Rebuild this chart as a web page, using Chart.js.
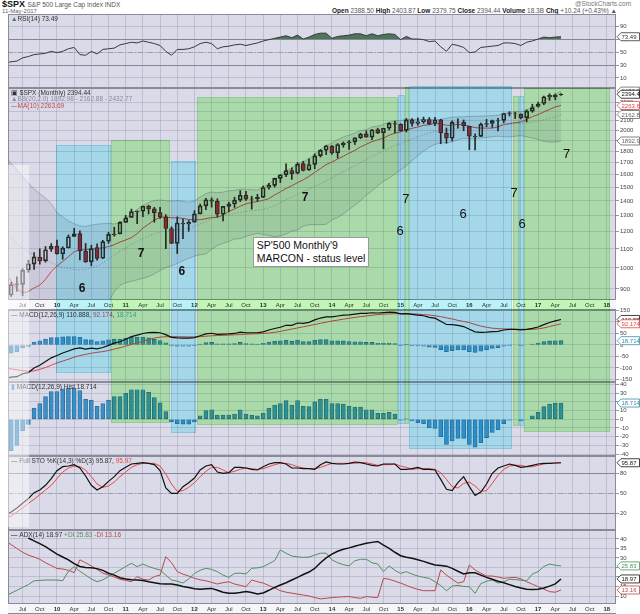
<!DOCTYPE html>
<html>
<head>
<meta charset="utf-8">
<script src="https://cdn.jsdelivr.net/npm/chart.js@4.4.1/dist/chart.umd.min.js"></script>
<style>
  body { margin: 0; background: #fff; }
  #wrap { position: relative; width: 640px; height: 614px; overflow: hidden; font-family: "Liberation Sans", Arial, sans-serif; }
  .pane { position: absolute; left: 0; width: 640px; }
  .t { position: absolute; white-space: nowrap; line-height: 1; }
  #overlay { position: absolute; left: 0; top: 0; width: 640px; height: 614px; pointer-events: none; }
  .zone { position: absolute; }
  .zone.green { background: rgb(200,255,187); mix-blend-mode: multiply; box-shadow: inset 0 0 0 1px rgb(172,238,160); }
  .zone.cyan { background: rgb(192,252,255); mix-blend-mode: multiply; box-shadow: inset 0 0 0 1px rgb(158,232,244); }
  .zone.white { background: rgba(255,255,255,0.45); }
  .note { position: absolute; transform: translate(-50%, -50%); font-family: "Liberation Sans", Arial, sans-serif; color: #111; font-size: 13px; }
  .note.b { font-weight: bold; font-size: 12px; }
  #box { position: absolute; background: #fff; border: 1px solid #9a9a9a; padding: 1px 3px; font-size: 10.5px; line-height: 13px; color: #111; white-space: nowrap; }
</style>
</head>
<body>
<div id="wrap">
  <div class="t" style="left:2px;top:0;font-size:9px;font-weight:bold;color:#111">$SPX <span style="font-size:6.5px;font-weight:normal;color:#555">S&amp;P 500 Large Cap Index INDX</span></div>
  <div class="t" style="left:2px;top:8px;font-size:6px;color:#666">11-May-2017</div>
  <div class="t" style="left:575px;top:1px;font-size:6.5px;color:#777">@StockCharts.com</div>
  <div class="t" style="right:23px;top:8px;font-size:6.5px;color:#555"><b style="color:#222">Open</b> 2388.50 <b style="color:#222">High</b> 2403.87 <b style="color:#222">Low</b> 2379.75 <b style="color:#222">Close</b> 2394.44 <b style="color:#222">Volume</b> 18.3B <b style="color:#222">Chg</b> +10.24 (+0.43%) &#9650;</div>

  <div class="pane" style="top:9px;height:84px"><canvas id="rsi"></canvas></div>
  <div class="pane" style="top:83px;height:227px"><canvas id="price"></canvas></div>
  <div class="pane" style="top:305px;height:82px"><canvas id="macd"></canvas></div>
  <div class="pane" style="top:377px;height:84px"><canvas id="hist"></canvas></div>
  <div class="pane" style="top:451px;height:84px"><canvas id="sto"></canvas></div>
  <div class="pane" style="top:525px;height:89px"><canvas id="adx"></canvas></div>

  <div id="overlay"></div>
</div>

<script>
// months counted from Jan 2010 = 0; series start Apr 2009 (-9) and end May 2017 (88)
const FIRST_MONTH = -9;

const xTickMonths = [-6, -3, 0, 3, 6, 9, 12, 15, 18, 21, 24, 27, 30, 33, 36, 39, 42, 45, 48, 51, 54, 57,
  60, 63, 66, 69, 72, 75, 78, 81, 84, 87, 90, 93, 96];
const xTickLabels = ['Jul', 'Oct', '10', 'Apr', 'Jul', 'Oct', '11', 'Apr', 'Jul', 'Oct', '12', 'Apr', 'Jul', 'Oct',
  '13', 'Apr', 'Jul', 'Oct', '14', 'Apr', 'Jul', 'Oct', '15', 'Apr', 'Jul', 'Oct', '16', 'Apr', 'Jul', 'Oct',
  '17', 'Apr', 'Jul', 'Oct', '18'];

const open = [
  793.6, 872.7, 923.3, 920.8, 990.2, 1019.5, 1054.9, 1036.2, 1098.9,
  1116.6, 1073.9, 1105.4, 1171.2, 1188.6, 1087.3, 1031.1, 1107.5, 1049.7, 1143.5, 1185.7, 1186.6,
  1257.6, 1289.1, 1328.6, 1329.5, 1365.2, 1345.2, 1320.6, 1292.6, 1219.1, 1131.2, 1251.0, 1246.9,
  1258.9, 1312.5, 1365.9, 1408.5, 1397.9, 1309.9, 1362.3, 1379.3, 1406.5, 1440.9, 1412.2, 1416.2,
  1426.2, 1498.1, 1514.7, 1569.2, 1597.6, 1631.7, 1609.8, 1689.4, 1635.9, 1682.4, 1758.7, 1806.6,
  1845.9, 1782.7, 1857.7, 1873.9, 1884.4, 1923.9, 1962.3, 1929.8, 2004.1, 1971.4, 2018.2, 2065.8,
  2058.9, 1996.7, 2105.2, 2067.6, 2087.4, 2108.6, 2067.0, 2104.5, 1970.1, 1919.7, 2080.8, 2082.9,
  2038.2, 1936.9, 1937.1, 2056.6, 2067.2, 2093.9, 2099.3, 2173.2, 2171.3, 2164.3, 2128.7, 2200.2,
  2251.6, 2285.6, 2380.1, 2362.3, 2388.5];
const high = [
  888.7, 930.2, 956.2, 996.7, 1039.5, 1080.2, 1101.4, 1113.7, 1130.4,
  1150.5, 1112.4, 1180.2, 1219.8, 1205.1, 1131.2, 1120.9, 1129.2, 1148.7, 1196.1, 1227.1, 1262.6,
  1302.7, 1344.1, 1332.3, 1364.6, 1370.6, 1356.5, 1356.5, 1307.4, 1229.3, 1292.7, 1277.6, 1269.4,
  1333.5, 1378.0, 1419.2, 1422.4, 1415.3, 1363.5, 1391.7, 1426.7, 1474.5, 1470.0, 1434.3, 1448.0,
  1509.9, 1530.9, 1570.3, 1597.6, 1687.2, 1654.2, 1698.0, 1709.7, 1729.9, 1775.2, 1813.6, 1849.4,
  1850.8, 1867.9, 1883.9, 1897.3, 1924.0, 1968.2, 1991.4, 2005.0, 2019.3, 2018.2, 2075.8, 2093.6,
  2064.4, 2119.6, 2117.5, 2125.9, 2134.7, 2129.9, 2132.8, 2112.7, 2021.0, 2094.3, 2116.5, 2104.3,
  2038.2, 1962.9, 2072.2, 2111.1, 2103.5, 2120.6, 2177.1, 2193.8, 2187.9, 2169.6, 2214.1, 2277.5,
  2301.0, 2371.5, 2401.0, 2398.2, 2403.87];
const low = [
  783.3, 866.1, 888.9, 869.3, 978.5, 991.9, 1019.0, 1029.4, 1085.9,
  1071.6, 1044.5, 1105.4, 1170.7, 1040.8, 1028.3, 1010.9, 1039.7, 1048.1, 1131.9, 1173.0, 1186.6,
  1257.6, 1289.1, 1249.1, 1294.7, 1311.8, 1258.1, 1282.9, 1101.5, 1136.2, 1074.8, 1158.7, 1202.4,
  1258.9, 1312.5, 1340.0, 1357.4, 1291.0, 1266.7, 1325.4, 1354.7, 1396.6, 1403.3, 1343.4, 1398.1,
  1426.2, 1485.0, 1501.5, 1536.0, 1581.3, 1560.3, 1604.6, 1627.5, 1633.4, 1646.5, 1746.2, 1767.9,
  1770.5, 1737.9, 1834.4, 1814.4, 1859.8, 1915.9, 1930.7, 1904.8, 1964.0, 1820.7, 2001.0, 1972.6,
  1988.4, 1980.9, 2039.7, 2048.4, 2067.9, 2056.3, 2044.0, 1867.0, 1871.9, 1893.7, 2019.4, 1993.3,
  1812.3, 1810.1, 1937.1, 2033.8, 2025.9, 1991.7, 2074.0, 2147.6, 2119.1, 2114.7, 2083.8, 2187.4,
  2245.1, 2271.7, 2322.3, 2329.0, 2379.75];
const close = [
  872.8, 919.1, 919.3, 987.5, 1020.6, 1057.1, 1036.2, 1095.6, 1115.1,
  1073.9, 1104.5, 1169.4, 1186.7, 1089.4, 1030.7, 1101.6, 1049.3, 1141.2, 1183.3, 1180.6, 1257.6,
  1286.1, 1327.2, 1325.8, 1363.6, 1345.2, 1320.6, 1292.3, 1218.9, 1131.4, 1253.3, 1247.0, 1257.6,
  1312.4, 1365.7, 1408.5, 1397.9, 1310.3, 1362.2, 1379.3, 1406.6, 1440.7, 1412.2, 1416.2, 1426.2,
  1498.1, 1514.7, 1569.2, 1597.6, 1630.7, 1606.3, 1685.7, 1633.0, 1681.6, 1756.5, 1806.0, 1848.4,
  1782.6, 1859.5, 1872.3, 1883.9, 1923.6, 1960.2, 1930.7, 2003.4, 1972.3, 2018.1, 2067.6, 2058.9,
  1995.0, 2104.5, 2067.9, 2085.5, 2107.4, 2063.1, 2104.0, 1972.2, 1920.0, 2079.4, 2080.4, 2043.9,
  1940.2, 1932.2, 2059.7, 2065.3, 2096.9, 2098.9, 2173.6, 2170.9, 2168.3, 2126.2, 2199.0, 2238.8,
  2278.9, 2363.6, 2362.7, 2384.2, 2394.44];
const ma10 = [
  971.7, 936.8, 900.5, 882.6, 887.8, 903.9, 917.2, 944.1, 982.1,
  1009.7, 1032.9, 1057.9, 1084.7, 1094.9, 1095.9, 1100.3, 1101.6, 1106.2, 1113.0, 1123.7, 1139.0,
  1150.7, 1164.7, 1188.3, 1221.6, 1246.0, 1273.1, 1288.2, 1291.8, 1286.9, 1286.4, 1282.5, 1275.6,
  1274.2, 1274.4, 1280.8, 1288.5, 1290.3, 1304.6, 1329.4, 1344.8, 1364.1, 1379.6, 1390.0, 1396.0,
  1405.0, 1416.7, 1442.5, 1466.1, 1491.2, 1511.2, 1535.7, 1557.8, 1584.3, 1617.3, 1648.1, 1681.5,
  1702.8, 1729.0, 1753.2, 1781.0, 1804.7, 1837.5, 1862.4, 1887.1, 1903.7, 1920.7, 1949.2, 1969.1,
  1981.4, 2003.4, 2017.9, 2030.4, 2048.1, 2054.0, 2067.2, 2062.6, 2047.9, 2049.9, 2058.4, 2052.4,
  2039.6, 2024.3, 2019.5, 2019.7, 2019.0, 2031.7, 2057.1, 2066.2, 2075.0, 2083.2, 2109.1, 2139.8,
  2161.7, 2191.5, 2218.1, 2246.6, 2263.69];
const bbMid = [
  1192.1, 1161.7, 1130.2, 1105.5, 1083.1, 1067.0, 1052.3, 1040.9, 1027.4,
  1011.1, 1002.3, 997.4, 992.6, 988.8, 991.9, 1002.1, 1009.4, 1025.2, 1047.6, 1066.7, 1086.0,
  1104.3, 1124.7, 1141.6, 1158.8, 1173.2, 1187.4, 1197.2, 1202.4, 1205.3, 1212.7, 1216.6, 1220.2,
  1231.3, 1248.0, 1263.4, 1280.8, 1289.3, 1298.2, 1308.2, 1315.6, 1323.3, 1327.6, 1332.1, 1335.2,
  1342.9, 1352.6, 1366.4, 1385.4, 1410.3, 1428.0, 1449.9, 1468.7, 1487.2, 1506.7, 1526.6, 1549.1,
  1572.7, 1597.6, 1622.2, 1646.1, 1670.2, 1697.7, 1723.4, 1752.2, 1775.9, 1801.1, 1826.0, 1849.1,
  1867.3, 1892.2, 1911.3, 1934.0, 1955.3, 1970.6, 1985.5, 1991.7, 1998.6, 2009.5, 2019.9, 2027.9,
  2028.8, 2027.4, 2033.8, 2036.9, 2043.1, 2047.2, 2052.5, 2058.1, 2066.7, 2067.8, 2074.4, 2082.1,
  2090.6, 2105.6, 2118.6, 2139.2, 2162.88];
const bbUpper = [
  1752, 1690, 1640, 1586, 1533, 1487, 1452, 1421, 1380,
  1321, 1292, 1267, 1249, 1235, 1232, 1240, 1246, 1249, 1252, 1247, 1256,
  1280, 1315, 1342, 1369, 1389, 1403, 1407, 1402, 1399, 1403, 1397, 1390,
  1401, 1428, 1453, 1465, 1459, 1464, 1474, 1476, 1487, 1484, 1482, 1479,
  1503, 1529, 1562, 1595, 1634, 1652, 1690, 1705, 1731, 1771, 1811, 1853,
  1873, 1908, 1932, 1950, 1970, 1994, 2003, 2032, 2040, 2057, 2082, 2093,
  2097, 2112, 2107, 2110, 2111, 2107, 2110, 2108, 2123, 2134, 2136, 2138,
  2143, 2143, 2146, 2147, 2151, 2155, 2173, 2184, 2195, 2192, 2214, 2242,
  2275, 2322, 2355, 2395, 2432.77];
const bbLower = [
  632, 634, 620, 626, 633, 647, 652, 661, 675,
  701, 712, 727, 737, 743, 752, 764, 773, 801, 844, 887, 916,
  928, 935, 942, 949, 957, 971, 987, 1002, 1011, 1023, 1037, 1050,
  1061, 1068, 1073, 1097, 1119, 1132, 1142, 1156, 1159, 1172, 1182, 1191,
  1183, 1177, 1170, 1175, 1186, 1204, 1210, 1233, 1243, 1243, 1243, 1245,
  1273, 1288, 1312, 1342, 1370, 1402, 1443, 1472, 1512, 1545, 1570, 1605,
  1637, 1672, 1715, 1758, 1799, 1835, 1861, 1876, 1875, 1885, 1904, 1918,
  1915, 1911, 1922, 1927, 1935, 1939, 1933, 1932, 1939, 1944, 1934, 1922,
  1907, 1890, 1883, 1883, 1892.98];
const rsi = [
  33, 35, 36, 41, 43, 46, 47, 48, 51,
  49, 51, 55, 57, 46, 45, 51, 47, 54, 55, 56, 61,
  63, 65, 64, 67, 65, 63, 60, 51, 45, 54, 54, 55,
  58, 63, 65, 63, 55, 58, 59, 61, 62, 60, 62, 64,
  67, 69, 71, 73, 75, 72, 76, 70, 73, 77, 79, 79,
  71, 74, 75, 76, 78, 78, 75, 78, 75, 77, 78, 77,
  69, 74, 70, 70, 69, 66, 67, 58, 51, 62, 60, 57,
  49, 50, 57, 58, 59, 60, 64, 64, 63, 60, 65, 67,
  70, 73, 72, 73, 73.49];
const macd = [
  -146, -140, -138, -125, -120, -100, -88, -72, -56,
  -46, -35, -26, -17, -13, -18, -14, -17, -11, -2, 8, 14,
  25, 36, 43, 50, 54, 55, 53, 45, 33, 31, 30, 29.5,
  32, 40, 48, 51, 46, 47, 48, 50, 56, 53, 53, 53,
  57, 65, 71.5, 77, 85.5, 85.5, 95.5, 94, 98.5, 109, 117, 122,
  122, 126, 129.5, 131, 134, 137, 137, 140, 139, 141, 143, 142,
  135, 136.5, 133, 130, 127, 120, 116.5, 103, 89, 88, 85, 80,
  68, 57, 55, 56, 58, 59, 65, 68, 68, 66, 68, 72,
  78, 88.5, 97.5, 104.5, 110.888];
const signal = [
  -100, -104, -108, -112, -114, -113, -106, -98, -88,
  -78, -70, -62, -53, -46, -41, -36, -32, -29, -24, -18, -12,
  -5, 2, 9, 16, 23, 30, 34, 36, 36, 36, 35.5, 35,
  35, 36, 38, 40, 41, 42, 43, 44, 45, 47, 48, 49,
  50, 52, 55, 59, 64, 69, 74, 79, 84, 89, 94, 99,
  104, 108, 112, 116, 120, 123, 126, 129, 132, 134, 135, 136,
  136, 136, 135, 134, 132, 130, 127, 123, 118, 113, 107, 102,
  97, 89, 82, 77, 73, 71, 70, 69, 68, 68, 68, 68,
  70, 74, 80, 86, 92.174];
const hist = [
  -46, -36, -30, -13, -6, 13, 18, 26, 32,
  32, 35, 36, 36, 33, 23, 22, 15, 18, 22, 26, 26,
  30, 34, 34, 34, 31, 25, 19, 9, -3, -5, -5.5, -5.5,
  -3, 4, 10, 11, 5, 5, 5, 6, 11, 6, 5, 4,
  7, 13, 16.5, 18, 21.5, 16.5, 21.5, 15, 14.5, 20, 23, 23,
  18, 18, 17.5, 15, 14, 14, 11, 11, 7, 7, 8, 6,
  -1, 0.5, -2, -4, -5, -10, -10.5, -20, -29, -25, -22, -22,
  -29, -32, -27, -21, -15, -12, -5, -1, 0, -2, 0, 4,
  8, 14.5, 17.5, 18.5, 18.714];
const stoK = [
  18, 22, 28, 35, 42, 51, 55, 62, 72,
  84, 90, 91, 93, 88, 76, 62, 55, 60, 68, 75, 84,
  89, 94, 95, 96, 95, 93, 84, 58, 50, 50, 60, 66,
  73, 85, 91, 93, 82, 80, 81, 89, 89, 88, 86, 85,
  90, 94, 96, 96, 94, 88, 88, 87, 87, 86, 93, 97,
  95, 94, 94, 95, 97, 96, 94, 92, 91, 94, 94, 94,
  86, 86, 87, 89, 86, 86, 85, 71, 56, 54, 66, 75,
  60, 47, 52, 64, 80, 88, 91, 94, 92, 89, 90, 92,
  94, 95, 95, 95.5, 95.87];
const stoD = [
  12, 16, 22, 28, 35, 41, 48, 55, 62,
  72, 82, 88, 91, 90, 85, 75, 64, 59, 61, 67, 75,
  82, 89, 93, 95, 95, 95, 91, 79, 64, 53, 54, 59,
  66, 75, 83, 89, 89, 85, 81, 83, 86, 88, 87, 86,
  87, 90, 93, 95, 95, 93, 90, 88, 87, 87, 89, 92,
  95, 95, 95, 95, 95, 96, 96, 94, 92, 93, 93, 94,
  91, 89, 86, 87, 87, 87, 86, 81, 71, 60, 58, 65,
  67, 61, 53, 54, 65, 77, 86, 91, 92, 92, 90, 90,
  92, 94, 95, 95.3, 95.97];
const adx = [
  null, null, null, null, 40.5, 39, 37.5, 36, 34,
  32, 30.5, 29, 27, 25.5, 25, 24.8, 24.4, 23.5, 22, 21, 19.6,
  19, 18.6, 18.4, 18.2, 17.5, 17, 16.4, 16.3, 16.3, 15.8, 15, 14.5,
  13.8, 13.6, 13.8, 14, 13, 12, 11.4, 11.5, 11.8, 12.3, 11.8, 11.1,
  11.6, 13, 14.5, 15.8, 17, 18.4, 19.8, 21.3, 22.6, 24.5, 27.5, 30,
  32, 33.5, 34.6, 35.3, 36.2, 37, 37.7, 38.2, 38.7, 36.8, 35, 33,
  31.2, 30.4, 29.8, 29.1, 28.2, 27.2, 26.3, 26, 25.7, 24.5, 23, 21.6,
  22.2, 22.2, 21, 19.8, 18.8, 17.8, 17, 16, 15, 14.2, 13.6, 13.4,
  13.5, 14.2, 15.2, 16.4, 18.97];
const plusDI = [
  10, 11.5, 13, 14.5, 16, 18, 18.2, 18.4, 18.4,
  18.4, 18, 23, 25.4, 23, 21, 19, 17.5, 18.5, 20.2, 22, 23.7,
  25.5, 27.2, 25.4, 26.8, 25.5, 24.5, 23.7, 21, 18.4, 17.8, 16.8, 19,
  21.9, 23.5, 24.6, 24, 22.8, 21, 19.8, 21.9, 22, 21.6, 24.6, 24.8,
  25.4, 27, 28.6, 34.2, 32.5, 31, 30.6, 30.3, 30.5, 31.5, 32.5, 32.5,
  29, 27.5, 26.5, 25.8, 28.5, 29.3, 29.3, 27.5, 26.8, 22.8, 25.8, 23.5,
  21.9, 22.8, 21.5, 20.5, 19.8, 19.3, 17.5, 15.5, 12.8, 15.2, 15.6, 15,
  14.9, 11.4, 16.5, 17.8, 18.4, 16.8, 17.5, 18.8, 18.6, 18.3, 18, 21.5,
  22.8, 25.5, 26.8, 26.2, 25.83];
const minusDI = [
  39, 37, 35, 33, 31.5, 30.5, 29.3, 27.5, 26,
  24.5, 24.2, 23.5, 22.3, 29, 27.5, 25.8, 24, 22, 21, 20, 18.8,
  18.2, 17.5, 20.2, 18.8, 18.4, 20.2, 21, 30.7, 27.5, 22.8, 21.5, 20.5,
  19.3, 18.5, 18, 17.2, 16.3, 17, 17.5, 16.3, 15.6, 14.9, 18.4, 17.5,
  16.8, 15.5, 14.2, 12.8, 12, 11.5, 11, 10.5, 10, 9.2, 8.5, 8.8,
  9.2, 9.4, 9.6, 9.7, 9.2, 8.8, 9.7, 9.4, 9.2, 19.3, 18.8, 17.8,
  16.8, 15.6, 14.4, 13.5, 12.8, 12.8, 12.8, 23.7, 21, 18.8, 16.8, 17.5,
  26.3, 23.7, 22, 20.5, 20.5, 20, 19.3, 19.6, 19.8, 19, 17.5, 16.2,
  14.9, 13.6, 12.3, 12, 13.16];

// hand-drawn annotations: zones in months, vertical extent in page pixels
const zones = [
  {from: -8.55, to: -4.9, top: 165, bottom: 527, kind: 'white'},
  {from: -0.17, to: 9.42, top: 145, bottom: 373, kind: 'cyan'},
  {from: 9.42, to: 19.7, top: 140, bottom: 423, kind: 'green'},
  {from: 19.9, to: 24.3, top: 161, bottom: 433, kind: 'cyan'},
  {from: 24.4, to: 59.5, top: 97, bottom: 425, kind: 'green'},
  {from: 59.5, to: 60.7, top: 95, bottom: 424, kind: 'cyan'},
  {from: 60.7, to: 61.4, top: 87, bottom: 424, kind: 'green'},
  {from: 61.4, to: 79.4, top: 86, bottom: 449, kind: 'cyan'},
  {from: 79.6, to: 80.6, top: 96, bottom: 426, kind: 'green'},
  {from: 80.6, to: 81.5, top: 96, bottom: 426, kind: 'cyan'},
  {from: 81.5, to: 96.5, top: 88, bottom: 432, kind: 'green'}
];
// [month, price, text, bold]
const notes = [
  [4.4, 903, '6', true], [14.7, 1080, '7', true], [21.8, 985, '6', true], [43.3, 1426, '7', true],
  [60.9, 1419, '7', false], [59.9, 1210, '6', false], [70.9, 1316, '6', false],
  [79.8, 1463, '7', false], [81.2, 1252, '6', false], [89, 1779, '7', false]
];
const boxAnchor = [34.2, 1169];
const boxLines = ["SP'500 Monthly'9", 'MARCON - status level'];

const FONT = '"Liberation Sans", Arial, sans-serif';
const PANEL_BG = '#dadae8';
const GRID = 'rgba(140,140,175,0.35)';
const X_MIN = -8.55, X_MAX = 97.6;
const PRICE_TOP = 83;

function pts(arr) { return arr.map((v, i) => ({x: FIRST_MONTH + i, y: v})); }

function drawTag(ctx, x0, y, text, color) {
  const h = 8;
  ctx.save();
  ctx.beginPath();
  ctx.moveTo(x0, y);
  ctx.lineTo(x0 + 4, y - h / 2);
  ctx.lineTo(639.5, y - h / 2);
  ctx.lineTo(639.5, y + h / 2);
  ctx.lineTo(x0 + 4, y + h / 2);
  ctx.closePath();
  ctx.fillStyle = '#fff';
  ctx.fill();
  ctx.strokeStyle = color;
  ctx.lineWidth = 0.8;
  ctx.stroke();
  ctx.fillStyle = color;
  ctx.font = '6px ' + FONT;
  ctx.textBaseline = 'middle';
  ctx.fillText(text, x0 + 4.5, y + 0.5);
  ctx.restore();
}

const deco = {};
const panelDeco = {
  id: 'panelDeco',
  beforeDraw(chart) {
    const d = deco[chart.canvas.id], a = chart.chartArea, ctx = chart.ctx;
    ctx.save();
    ctx.fillStyle = PANEL_BG;
    ctx.fillRect(a.left, a.top, a.right - a.left, a.bottom - a.top);
    if (d.band) {
      ctx.fillStyle = '#f6f6f8';
      ctx.fillRect(a.left, a.bottom, a.right - a.left, d.band);
    }
    ctx.restore();
  },
  beforeDatasetsDraw(chart) {
    const d = deco[chart.canvas.id], a = chart.chartArea, ctx = chart.ctx, y = chart.scales.y;
    (d.levels || []).forEach(l => {
      const py = Math.round(y.getPixelForValue(l.v)) + 0.5;
      ctx.save();
      ctx.strokeStyle = l.c;
      ctx.lineWidth = l.w || 1;
      ctx.setLineDash(l.dash || []);
      ctx.beginPath();
      ctx.moveTo(a.left, py);
      ctx.lineTo(a.right, py);
      ctx.stroke();
      ctx.restore();
    });
  },
  afterDraw(chart) {
    const d = deco[chart.canvas.id], a = chart.chartArea, ctx = chart.ctx, y = chart.scales.y;
    ctx.save();
    ctx.strokeStyle = '#8a8a98';
    ctx.lineWidth = 1;
    ctx.strokeRect(a.left + 0.5, a.top + 0.5, a.right - a.left - 1, a.bottom - a.top - 1);
    if (d.band) {
      ctx.beginPath();
      ctx.moveTo(a.left, a.bottom + d.band - 0.5);
      ctx.lineTo(a.right, a.bottom + d.band - 0.5);
      ctx.stroke();
    }
    ctx.font = '6.5px ' + FONT;
    ctx.textBaseline = 'middle';
    d.legend.forEach((line, li) => {
      let x = a.left + 3;
      const yy = a.top + 5 + li * 6.5;
      line.forEach(([t, c]) => {
        ctx.fillStyle = c;
        ctx.fillText(t, x, yy);
        x += ctx.measureText(t).width;
      });
    });
    ctx.restore();
    (d.tags || []).forEach(([v, t, c]) => drawTag(ctx, a.right + 1, y.getPixelForValue(v), t, c));
  }
};

function xScale(band) {
  return {
    type: 'linear', min: X_MIN, max: X_MAX, offset: false,
    afterBuildTicks: s => { s.ticks = xTickMonths.map(v => ({value: v})); },
    afterFit: s => { s.height = band || 0; },
    grid: {color: GRID, drawTicks: false, offset: false},
    border: {display: false},
    ticks: {
      display: !!band, autoSkip: false, maxRotation: 0, padding: 1.5, color: '#333',
      callback: (v, i) => xTickLabels[i],
      font: c => ({family: FONT, size: 6, weight: /^\d/.test(xTickLabels[c.index]) ? 'bold' : 'normal'})
    }
  };
}

function yScale(o) {
  return {
    type: o.type || 'linear', position: 'right', min: o.min, max: o.max,
    afterBuildTicks: s => { s.ticks = o.ticks.map(v => ({value: v})); },
    afterFit: s => { s.width = 24; },
    grid: {color: GRID, tickLength: 3, tickColor: '#999'},
    border: {display: false},
    ticks: {autoSkip: false, padding: 1, color: '#444', font: {family: FONT, size: 6}, callback: v => String(v)}
  };
}

function makeChart(id, type, datasets, yOpts, d) {
  deco[id] = d;
  return new Chart(document.getElementById(id), {
    type: type,
    data: {datasets: datasets},
    options: {
      responsive: true, maintainAspectRatio: false, animation: false, events: [],
      layout: {padding: {left: 8, right: 0, top: 5, bottom: d.band ? 0 : 5}},
      plugins: {legend: {display: false}, tooltip: {enabled: false}},
      scales: {x: xScale(d.band), y: yScale(yOpts)}
    },
    plugins: [panelDeco]
  });
}

const line = (data, color, width, extra) =>
  Object.assign({type: 'line', data: pts(data), borderColor: color, borderWidth: width, pointRadius: 0, fill: false}, extra || {});

// RSI
makeChart('rsi', 'line', [
  line(rsi, '#3a3a3a', 1, {fill: {target: {value: 70}, above: '#4b7659', below: 'rgba(0,0,0,0)'}})
], {min: -5.4, max: 108.5, ticks: [10, 30, 50, 70, 90]}, {
  levels: [{v: 70, c: '#85859a', w: 1.2}, {v: 30, c: '#85859a', w: 1.2}, {v: 50, c: '#9c9cae', dash: [5, 2, 1, 2]}],
  legend: [[['\u25B2', '#4b7659'], ['RSI(14) 73.49', '#333']]],
  tags: [[73.49, '73.49', '#333']]
});

// price
const bodies = close.map((c, i) => ({x: FIRST_MONTH + i, y: [open[i], c]}));
const wickUp = close.map((c, i) => ({x: FIRST_MONTH + i, y: [Math.max(open[i], c), high[i]]}));
const wickDn = close.map((c, i) => ({x: FIRST_MONTH + i, y: [low[i], Math.min(open[i], c)]}));
const priceChart = makeChart('price', 'bar', [
  {type: 'bar', data: bodies, barThickness: 4, grouped: false, borderWidth: 1, borderSkipped: false,
    borderColor: '#2a2a2a', order: 0, clip: 0,
    backgroundColor: c => close[c.dataIndex] < open[c.dataIndex] ? '#b3283a' : 'rgba(0,0,0,0)'},
  {type: 'bar', data: wickUp, barThickness: 1, grouped: false, backgroundColor: '#2a2a2a', borderWidth: 0, order: 1, clip: 0},
  {type: 'bar', data: wickDn, barThickness: 1, grouped: false, backgroundColor: '#2a2a2a', borderWidth: 0, order: 1, clip: 0},
  line(ma10, '#c64a4a', 1, {order: 2}),
  line(bbUpper, 'rgba(115,115,140,0.45)', 1, {order: 4, fill: '+1', backgroundColor: 'rgba(105,105,135,0.14)'}),
  line(bbLower, 'rgba(115,115,140,0.45)', 1, {order: 4}),
  line(bbMid, 'rgba(105,105,130,0.6)', 1, {order: 3, borderDash: [1, 2]})
], {type: 'logarithmic', min: 851, max: 2471,
  ticks: [900, 1000, 1100, 1200, 1300, 1400, 1500, 1600, 1700, 1800, 1900, 2000, 2100, 2200, 2300]}, {
  band: 10,
  legend: [
    [['\u25A3 ', '#333'], ['$SPX (Monthly) 2394.44', '#333']],
    [['\u25B2BB(20,2.0) 1892.98 - 2162.88 - 2432.77', '#8a8aa0']],
    [['\u2014MA(10) 2263.69', '#c64a4a']]
  ],
  tags: [[2432.77, '2432.77', '#666'], [2394.44, '2394.44', '#111'], [2263.69, '2263.69', '#c64a4a'],
    [2162.88, '2162.88', '#666'], [1892.98, '1892.98', '#666']]
});

// MACD
makeChart('macd', 'bar', [
  line(macd, '#111', 1.2, {order: 0}),
  line(signal, '#e04848', 1, {order: 1}),
  {type: 'bar', data: pts(hist), barThickness: 4, grouped: false, backgroundColor: '#3b90c8',
    borderColor: '#2a6c98', borderWidth: 0.8, borderSkipped: false, order: 2, clip: 0}
], {min: -161, max: 152, ticks: [-150, -100, -50, 0, 50, 100, 150]}, {
  legend: [[['\u2014 ', '#111'], ['MACD(12,26,9) 110.888, ', '#333'], ['92.174', '#e04848'], [', ', '#333'], ['18.714', '#3a9fb0']]],
  tags: [[110.888, '110.888', '#111'], [92.174, '92.174', '#e04848'], [18.714, '18.714', '#3a8fa8']]
});

// MACD histogram
makeChart('hist', 'bar', [
  {type: 'bar', data: pts(hist), barThickness: 4, grouped: false, backgroundColor: '#3b90c8',
    borderColor: '#2a6c98', borderWidth: 0.8, borderSkipped: false, clip: 0}
], {min: -42.2, max: 42.9, ticks: [-40, -30, -20, -10, 0, 10, 20, 30, 40]}, {
  legend: [[['\u25AE ', '#3b90c8'], ['MACD(12,26,9) Hist 18.714', '#333']]],
  tags: [[18.714, '18.714', '#3a8fa8']]
});

// Full stochastics
makeChart('sto', 'line', [
  line(stoK, '#111', 1.2),
  line(stoD, '#e84848', 1)
], {min: -5, max: 106, ticks: [20, 50, 80]}, {
  levels: [{v: 80, c: '#85859a', w: 1.2}, {v: 20, c: '#85859a', w: 1.2}, {v: 50, c: '#9c9cae', dash: [5, 2, 1, 2]}],
  legend: [[['\u2014 ', '#111'], ['Full STO %K(14,3) %D(3) 95.87, ', '#333'], ['95.97', '#e84848']]],
  tags: [[95.87, '95.87', '#111']]
});

// ADX
makeChart('adx', 'line', [
  line(adx, '#111', 1.5),
  line(plusDI, '#4f8f60', 1),
  line(minusDI, '#b84a4a', 1)
], {min: 5.8, max: 44.7, ticks: [10, 15, 20, 25, 30, 35, 40]}, {
  band: 10,
  legend: [[['\u2014 ', '#111'], ['ADX(14) 18.97 ', '#333'], ['+DI 25.83 ', '#4f8f60'], ['-DI 13.16', '#b84a4a']]],
  tags: [[25.83, '25.83', '#4f8f60'], [18.97, '18.97', '#111'], [13.16, '13.16', '#b84a4a']]
});

// annotation layer, placed with the price chart's scales
const layer = document.getElementById('overlay');
const px = priceChart.scales.x, py = priceChart.scales.y;
zones.forEach(z => {
  const x1 = px.getPixelForValue(z.from), x2 = px.getPixelForValue(z.to);
  const el = document.createElement('div');
  el.className = 'zone ' + z.kind;
  el.style.left = x1 + 'px';
  el.style.width = (x2 - x1) + 'px';
  el.style.top = z.top + 'px';
  el.style.height = (z.bottom - z.top) + 'px';
  layer.appendChild(el);
});
notes.forEach(([m, p, t, b]) => {
  const el = document.createElement('div');
  el.className = 'note' + (b ? ' b' : '');
  el.textContent = t;
  el.style.left = px.getPixelForValue(m) + 'px';
  el.style.top = (PRICE_TOP + py.getPixelForValue(p)) + 'px';
  layer.appendChild(el);
});
const box = document.createElement('div');
box.id = 'box';
box.innerHTML = boxLines.join('<br>');
box.style.left = px.getPixelForValue(boxAnchor[0]) + 'px';
box.style.top = (PRICE_TOP + py.getPixelForValue(boxAnchor[1])) + 'px';
layer.appendChild(box);
</script>
</body>
</html>
